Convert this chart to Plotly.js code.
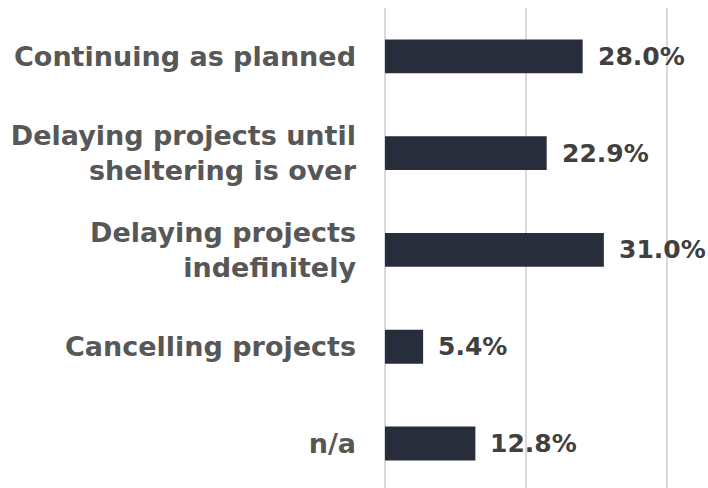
<!DOCTYPE html>
<html><head><meta charset="utf-8">
<script src="https://cdn.plot.ly/plotly-3.0.1.min.js"></script>
<style>html,body{margin:0;padding:0;background:#fff}</style>
</head><body>
<div id="chart" style="width:708px;height:488px"></div>
<script>
const categories = ["Continuing as planned","Delaying projects until<br>sheltering is over","Delaying projects<br>indefinitely","Cancelling projects","n/a"];
const values = [28.0, 22.9, 31.0, 5.4, 12.8];
const valueLabels = ["28.0%","22.9%","31.0%","5.4%","12.8%"];

const trace = {
  type: 'bar', orientation: 'h',
  x: values, y: categories.map((c,i)=>i),
  marker: {color: '#272d3a'},
  width: 0.35,
  hoverinfo: 'skip'
};
const annotations = values.map((v,i)=>({
  x: v, y: i, xref:'x', yref:'y', text: valueLabels[i], showarrow:false,
  xanchor:'left', xshift: 13,
  font:{family:'DejaVu Sans', size:25, color:'#404040', weight:700}
}));
const layout = {
  width:708, height:488,
  margin:{l:385, r:0, t:8, b:0},
  paper_bgcolor:'#fff', plot_bgcolor:'#fff',
  showlegend:false,
  xaxis:{range:[0,45.75], dtick:20, tick0:0, showticklabels:false, showgrid:true, gridcolor:'#d9d9d9', gridwidth:2, zeroline:true, zerolinecolor:'#d9d9d9', zerolinewidth:2, showline:false, fixedrange:true},
  yaxis:{range:[4.46,-0.5], tickmode:'array', tickvals:categories.map((c,i)=>i), ticktext:categories, showgrid:false, zeroline:false, showline:false, ticks:'', ticklabelstandoff:28,
    tickfont:{family:'DejaVu Sans', size:27, color:'#575757', weight:700}},
  annotations: annotations
};
Plotly.newPlot('chart',[trace],layout,{displayModeBar:false, staticPlot:true});
</script>
</body></html>
